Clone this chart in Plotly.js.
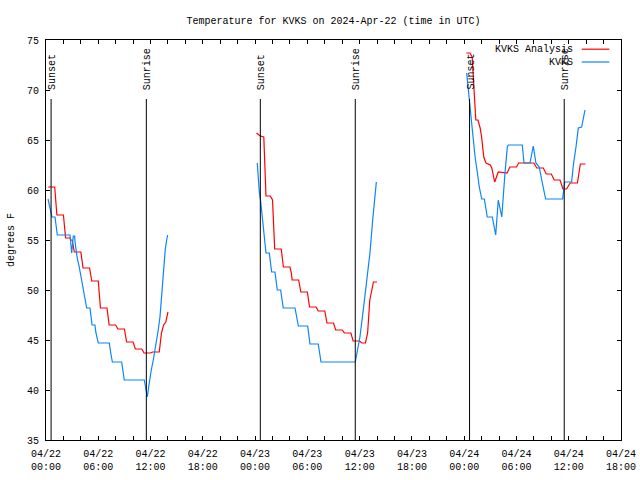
<!DOCTYPE html>
<html>
<head>
<meta charset="utf-8">
<script src="https://cdn.plot.ly/plotly-3.0.1.min.js"></script>
<style>html,body{margin:0;padding:0;background:#fff;}#chart{width:640px;height:480px;}</style>
</head>
<body>
<div id="chart"></div>
<script>
// KVKS Analysis (red), null marks a data gap
const analysisTimes = [
 "2024-04-22 00:15","2024-04-22 01:00","2024-04-22 01:15","2024-04-22 02:00","2024-04-22 02:15","2024-04-22 02:45","2024-04-22 02:50","2024-04-22 03:00",
 "2024-04-22 03:15","2024-04-22 04:00","2024-04-22 04:15","2024-04-22 05:00","2024-04-22 05:15","2024-04-22 06:00","2024-04-22 06:15","2024-04-22 07:00",
 "2024-04-22 07:15","2024-04-22 08:00","2024-04-22 08:15","2024-04-22 09:00","2024-04-22 09:15","2024-04-22 10:00","2024-04-22 10:15","2024-04-22 11:00",
 "2024-04-22 11:15","2024-04-22 12:00","2024-04-22 12:15","2024-04-22 13:00","2024-04-22 13:15","2024-04-22 13:30","2024-04-22 13:45","2024-04-22 14:00",
 "2024-04-22 18:00",
 "2024-04-23 00:10","2024-04-23 00:35","2024-04-23 01:00","2024-04-23 01:15","2024-04-23 01:45","2024-04-23 02:00","2024-04-23 02:15","2024-04-23 03:00",
 "2024-04-23 03:15","2024-04-23 04:00","2024-04-23 04:10","2024-04-23 04:15","2024-04-23 05:00","2024-04-23 05:15","2024-04-23 06:00","2024-04-23 06:15",
 "2024-04-23 07:00","2024-04-23 07:15","2024-04-23 08:00","2024-04-23 08:15","2024-04-23 09:00","2024-04-23 09:15","2024-04-23 10:00","2024-04-23 10:15",
 "2024-04-23 11:00","2024-04-23 11:15","2024-04-23 12:00","2024-04-23 12:15","2024-04-23 12:40","2024-04-23 12:55","2024-04-23 13:10","2024-04-23 13:25",
 "2024-04-23 13:35","2024-04-23 14:00",
 "2024-04-23 18:00",
 "2024-04-24 00:15","2024-04-24 00:40","2024-04-24 00:55","2024-04-24 01:20","2024-04-24 01:35","2024-04-24 01:50","2024-04-24 02:00","2024-04-24 02:15",
 "2024-04-24 02:30","2024-04-24 03:00","2024-04-24 03:10","2024-04-24 03:30","2024-04-24 03:55","2024-04-24 04:30","2024-04-24 04:55","2024-04-24 05:15",
 "2024-04-24 06:00","2024-04-24 06:15","2024-04-24 08:00","2024-04-24 08:20","2024-04-24 09:05","2024-04-24 09:25","2024-04-24 10:00","2024-04-24 10:20",
 "2024-04-24 11:00","2024-04-24 11:20","2024-04-24 11:45","2024-04-24 12:10","2024-04-24 13:00","2024-04-24 13:20","2024-04-24 13:55"
];
const analysisTemps = [
 60.3,60.3,57.5,57.5,55.2,55.2,55.0,55.0,
 53.8,53.8,52.2,52.2,50.9,50.9,48.2,48.2,
 46.5,46.5,46.1,46.1,44.8,44.8,44.1,44.1,
 43.7,43.7,43.8,43.8,45.7,46.5,46.8,47.8,
 null,
 65.7,65.4,65.3,59.4,59.4,59.0,54.1,54.1,
 52.3,52.3,51.7,51.0,51.0,49.8,49.8,48.3,
 48.3,47.9,47.9,46.7,46.7,46.0,46.0,45.7,
 45.7,44.9,44.9,44.7,44.7,45.7,49.0,50.3,
 50.8,50.8,
 null,
 73.7,73.7,73.3,67.0,67.0,66.2,65.3,63.3,
 62.7,62.5,62.2,60.8,61.8,61.7,61.7,62.3,
 62.3,62.7,62.7,62.2,62.2,61.6,61.6,61.0,
 61.0,60.1,60.1,60.7,60.7,62.6,62.6
];

// KVKS observations (blue)
const obsTimes = [
 "2024-04-22 00:14","2024-04-22 00:34","2024-04-22 00:41","2024-04-22 01:02","2024-04-22 01:18","2024-04-22 02:45","2024-04-22 02:57","2024-04-22 03:08",
 "2024-04-22 03:17","2024-04-22 03:20","2024-04-22 03:26","2024-04-22 03:35","2024-04-22 03:49","2024-04-22 03:59","2024-04-22 04:13","2024-04-22 04:22",
 "2024-04-22 04:31","2024-04-22 04:40","2024-04-22 05:03","2024-04-22 05:08","2024-04-22 05:17","2024-04-22 05:37","2024-04-22 05:44","2024-04-22 06:00",
 "2024-04-22 07:16","2024-04-22 07:26","2024-04-22 07:37","2024-04-22 08:41","2024-04-22 08:48","2024-04-22 08:59","2024-04-22 11:17","2024-04-22 11:24",
 "2024-04-22 11:34","2024-04-22 11:38","2024-04-22 11:47","2024-04-22 11:56","2024-04-22 12:05","2024-04-22 12:19","2024-04-22 12:31","2024-04-22 12:43",
 "2024-04-22 12:53","2024-04-22 13:05","2024-04-22 13:12","2024-04-22 13:19","2024-04-22 13:23","2024-04-22 13:28","2024-04-22 13:32","2024-04-22 13:41",
 "2024-04-22 13:51","2024-04-22 13:58",
 "2024-04-22 18:00",
 "2024-04-23 00:15","2024-04-23 00:22","2024-04-23 00:29","2024-04-23 00:39","2024-04-23 00:43","2024-04-23 00:57","2024-04-23 01:04","2024-04-23 01:15",
 "2024-04-23 01:38","2024-04-23 01:54","2024-04-23 02:17","2024-04-23 02:33","2024-04-23 02:56","2024-04-23 03:14","2024-04-23 04:35","2024-04-23 04:58",
 "2024-04-23 06:02","2024-04-23 06:18","2024-04-23 07:15","2024-04-23 07:34","2024-04-23 11:30","2024-04-23 11:44","2024-04-23 12:02","2024-04-23 12:25",
 "2024-04-23 12:49","2024-04-23 13:11","2024-04-23 13:30","2024-04-23 13:48","2024-04-23 13:55",
 "2024-04-23 18:00",
 "2024-04-24 00:17","2024-04-24 00:35","2024-04-24 00:45","2024-04-24 00:59","2024-04-24 01:15","2024-04-24 01:31","2024-04-24 01:44","2024-04-24 02:01",
 "2024-04-24 02:19","2024-04-24 02:39","2024-04-24 03:14","2024-04-24 03:37","2024-04-24 03:55","2024-04-24 04:19","2024-04-24 04:30","2024-04-24 04:41",
 "2024-04-24 04:57","2024-04-24 05:04","2024-04-24 06:40","2024-04-24 06:52","2024-04-24 07:33","2024-04-24 07:56","2024-04-24 08:14","2024-04-24 08:37",
 "2024-04-24 08:54","2024-04-24 09:21","2024-04-24 11:18","2024-04-24 11:32","2024-04-24 12:20","2024-04-24 12:32","2024-04-24 12:50","2024-04-24 13:06",
 "2024-04-24 13:29","2024-04-24 13:52"
];
const obsTemps = [
 59.1,57.7,57.3,57.3,55.5,55.5,53.7,55.4,
 55.4,54.8,54.0,53.2,52.3,51.5,50.7,49.8,
 49.0,48.2,48.2,47.3,46.5,46.5,45.7,44.7,
 44.7,43.7,42.8,42.8,42.0,41.0,41.0,40.3,
 39.3,39.3,40.3,41.3,42.0,43.0,44.0,45.0,
 46.0,47.3,48.7,49.7,51.0,52.0,53.0,54.0,
 55.0,55.5,
 null,
 62.7,61.0,59.8,58.8,58.2,56.7,55.5,53.7,
 53.7,51.8,51.8,50.0,50.0,48.2,48.2,46.4,
 46.4,44.6,44.6,42.8,42.8,43.8,45.3,48.0,
 50.7,53.7,57.0,60.3,60.8,
 null,
 71.7,69.0,67.2,65.3,63.3,61.7,60.3,59.1,
 59.1,57.3,57.3,55.5,59.0,57.3,59.7,61.7,
 64.3,64.5,64.5,62.7,62.7,64.4,62.7,62.3,
 61.0,59.1,59.1,60.8,60.8,62.5,64.3,66.2,
 66.3,68.0
];

const sunsetTimes = ["2024-04-22 00:35","2024-04-23 00:36","2024-04-24 00:37"];
const sunriseTimes = ["2024-04-22 11:31","2024-04-23 11:30","2024-04-24 11:29"];

const tickTimes = ["2024-04-22 00:00","2024-04-22 06:00","2024-04-22 12:00","2024-04-22 18:00",
 "2024-04-23 00:00","2024-04-23 06:00","2024-04-23 12:00","2024-04-23 18:00",
 "2024-04-24 00:00","2024-04-24 06:00","2024-04-24 12:00","2024-04-24 18:00"];
const tickLabels = ["04/22<br>00:00","04/22<br>06:00","04/22<br>12:00","04/22<br>18:00",
 "04/23<br>00:00","04/23<br>06:00","04/23<br>12:00","04/23<br>18:00",
 "04/24<br>00:00","04/24<br>06:00","04/24<br>12:00","04/24<br>18:00"];

const seriesNames = ["KVKS Analysis","KVKS"];
const seriesColors = ["#ff0000","#0a84ff"];

const FONT = {family:"Liberation Mono, DejaVu Sans Mono, monospace", size:10, color:"#000"};

const traces = [
 {x:analysisTimes, y:analysisTemps, name:seriesNames[0], type:"scatter", mode:"lines",
  line:{color:seriesColors[0], width:1.2}, connectgaps:false, showlegend:false},
 {x:obsTimes, y:obsTemps, name:seriesNames[1], type:"scatter", mode:"lines",
  line:{color:seriesColors[1], width:1.2}, connectgaps:false, showlegend:false}
];

const shapes = [];
const annotations = [];
const events = [];
sunsetTimes.forEach(t => events.push([t,"Sunset"]));
sunriseTimes.forEach(t => events.push([t,"Sunrise"]));
events.forEach(([t,label]) => {
  shapes.push({type:"line", xref:"x", yref:"y", x0:t, x1:t, y0:35, y1:69.1,
    line:{color:"#000", width:1}});
  annotations.push({xref:"x", yref:"y", x:t, y:69.8, text:label, textangle:-90,
    showarrow:false, xanchor:"center", yanchor:"bottom", xshift:1, font:FONT});
});
// legend (gnuplot style: text then line sample)
const legendRowsY = [0.977, 0.945];
seriesNames.forEach((n,i) => {
  annotations.push({xref:"paper", yref:"paper", x:0.9195, y:legendRowsY[i], text:n,
    showarrow:false, xanchor:"right", yanchor:"middle", font:FONT});
  shapes.push({type:"line", xref:"paper", yref:"paper", x0:0.9317, x1:0.9797,
    y0:legendRowsY[i], y1:legendRowsY[i], line:{color:seriesColors[i], width:1.2}});
});

const layout = {
  width:640, height:480,
  margin:{l:46, r:19, t:40, b:40},
  paper_bgcolor:"#fff", plot_bgcolor:"#fff",
  font:FONT,
  title:{text:"Temperature for KVKS on 2024-Apr-22 (time in UTC)", font:FONT,
    xref:"paper", x:0.5, xanchor:"center", yref:"container", y:0.958, yanchor:"middle"},
  xaxis:{type:"date", range:["2024-04-22 00:00","2024-04-24 18:00"],
    tickmode:"array", tickvals:tickTimes, ticktext:tickLabels,
    ticks:"inside", ticklen:4, tickcolor:"#000", tickwidth:1,
    minor:{dtick:7200000, tick0:"2024-04-22 00:00", ticks:"inside", ticklen:4, tickcolor:"#000", tickwidth:1, showgrid:false},
    showline:true, linecolor:"#000", linewidth:1, mirror:"ticks",
    showgrid:false, zeroline:false, tickfont:FONT, ticklabelstandoff:4},
  yaxis:{range:[35,75], dtick:5, tick0:35,
    ticks:"inside", ticklen:4, tickcolor:"#000", tickwidth:1,
    showline:true, linecolor:"#000", linewidth:1, mirror:"ticks",
    showgrid:false, zeroline:false, tickfont:FONT, ticklabelstandoff:4,
    title:{text:"degrees F", font:FONT, standoff:10}},
  shapes:shapes,
  annotations:annotations,
  showlegend:false
};

Plotly.newPlot("chart", traces, layout, {staticPlot:true, displayModeBar:false});
</script>
</body>
</html>
